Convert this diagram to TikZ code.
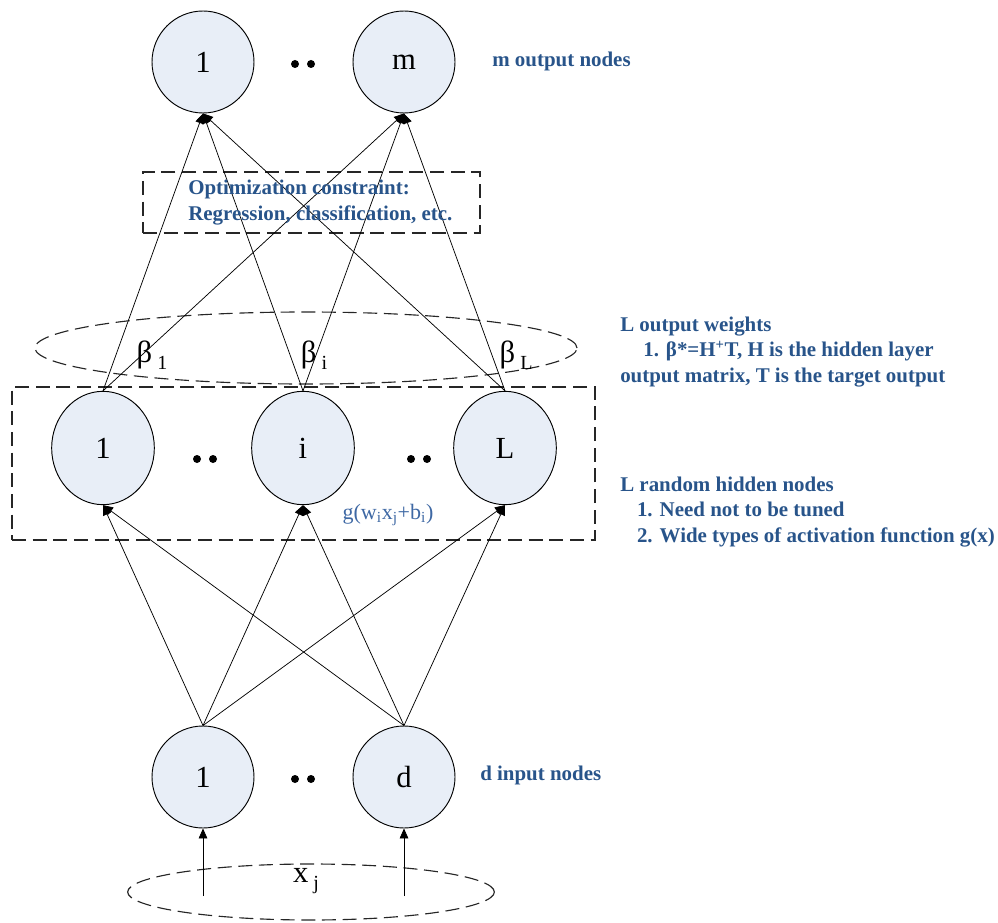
\documentclass[tikz,border=0pt]{standalone}
\usepackage{fontspec}
\setmainfont{Liberation Serif}
\usetikzlibrary{arrows.meta,shapes.geometric}
\definecolor{nodefill}{RGB}{232,238,247}
\definecolor{txtblue}{RGB}{40,84,138}
\definecolor{gblue}{RGB}{62,104,164}
\begin{document}
\begin{tikzpicture}[x=0.75pt,y=-0.75pt,
  neuron/.style={circle,draw=black,fill=nodefill,line width=0.7pt,minimum size=76.5pt,inner sep=0pt,font=\fontsize{23}{26}\selectfont},
  hneuron/.style={ellipse,draw=black,fill=nodefill,line width=0.7pt,minimum width=77pt,minimum height=85pt,inner sep=0pt,font=\fontsize{23}{26}\selectfont},
  note/.style={text=txtblue,font=\bfseries\fontsize{15.7}{19}\selectfont,anchor=west,align=left,inner sep=0pt},
  conn/.style={-{Triangle[length=7.5pt,width=6.5pt]},line width=0.55pt},
  dbox/.style={draw=black!85,dash pattern=on 10.5pt off 5pt,line width=0.85pt,inner sep=0pt},
  dotfill/.style={fill=black}]
\useasboundingbox (0,0) rectangle (998,923);

% dashed frames
\node[dbox,rectangle,minimum width=437.25pt,minimum height=114.75pt] (hbox) at (303.5,463.5) {};
\node[dbox,rectangle,minimum width=252.75pt,minimum height=45.75pt] (obox) at (311.5,202.5) {};
\node[dbox,ellipse,minimum width=406.5pt,minimum height=54pt] (bell) at (306,348) {};
\node[dbox,ellipse,minimum width=275pt,minimum height=42pt] (xell) at (311,892) {};

% output nodes
\node[neuron] (o1) at (203,62) {1};
\node[neuron] (om) at (404,62) {m};
% hidden nodes
\node[hneuron] (h1) at (103,448) {1};
\node[hneuron] (hi) at (303,448) {i};
\node[hneuron] (hL) at (505,448) {L};
% input nodes
\node[neuron] (i1) at (203,777) {1};
\node[neuron] (id) at (404,777) {d};

% dots
\fill[dotfill] (295,64) circle (3pt) (311,64) circle (3pt);
\fill[dotfill] (197,459) circle (3pt) (213,459) circle (3pt);
\fill[dotfill] (411,459) circle (3pt) (427,459) circle (3pt);
\fill[dotfill] (295,779) circle (3pt) (311,779) circle (3pt);

% hidden -> output
\foreach \h in {h1,hi,hL}{
  \draw[conn] (\h.north) -- (o1.south);
  \draw[conn] (\h.north) -- (om.south);
}
% input -> hidden
\foreach \s in {i1,id}{
  \foreach \h in {h1,hi,hL}{
    \draw[conn] (\s.north) -- (\h.south);
  }
}
% x_j -> input
\coordinate (x1) at (203,896);
\coordinate (x2) at (404,896);
\draw[conn] (x1) -- (i1.south);
\draw[conn] (x2) -- (id.south);

% labels
\node[font=\fontsize{23}{24}\selectfont] (xj) at (306,881) {x\,\raisebox{-5pt}{\fontsize{15}{15}\selectfont j}};
\node[font=\fontsize{23}{24}\selectfont] (b1) at (152,355) {β\,\raisebox{-5pt}{\fontsize{15}{15}\selectfont 1}};
\node[font=\fontsize{23}{24}\selectfont] (bi) at (314,355) {β\,\raisebox{-5pt}{\fontsize{15}{15}\selectfont i}};
\node[font=\fontsize{23}{24}\selectfont] (bL) at (516,355) {β\,\raisebox{-5pt}{\fontsize{15}{15}\selectfont L}};
\node[text=gblue,font=\fontsize{16.5}{18}\selectfont] (g) at (388,515) {g(w\textsubscript{i}x\textsubscript{j}+b\textsubscript{i})};

\node[note,align=left] (opt) at (188,202.5) {Optimization constraint:\\Regression, classification, etc.};
\node[note] (mout) at (492,61) {m output nodes};
\node[note] (din) at (480,775) {d input nodes};
\node[note] (ow) at (620,352) {L output weights\\\hspace{1.1em}1. β*=H\textsuperscript{+}T, H is the hidden layer\\output matrix, T is the target output};
\node[note] (hn) at (620,512) {L random hidden nodes\\\hspace{0.8em}1. Need not to be tuned\\\hspace{0.8em}2. Wide types of activation function g(x)};
\end{tikzpicture}
\end{document}
